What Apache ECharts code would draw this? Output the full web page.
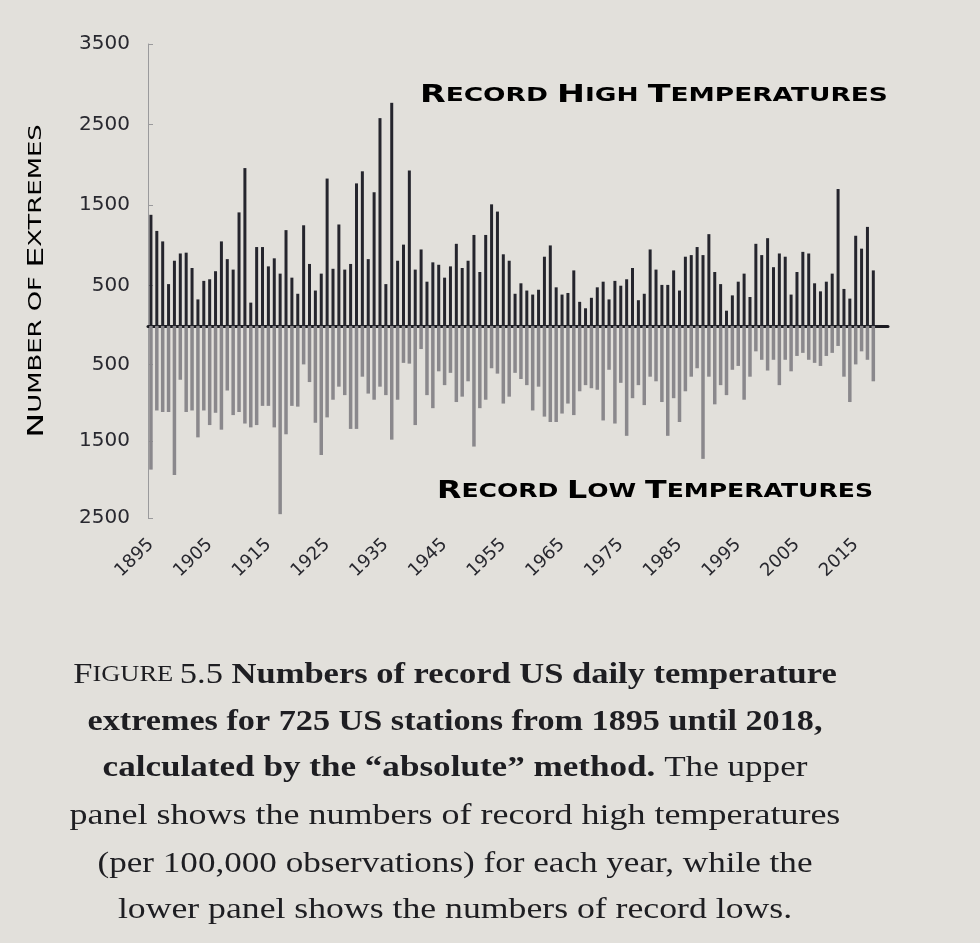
<!DOCTYPE html>
<html>
<head>
<meta charset="utf-8">
<script src="https://cdn.jsdelivr.net/npm/echarts@6/dist/echarts.min.js"></script>
<style>
  html, body { margin: 0; padding: 0; background: #e2e0db; }
  #chart { width: 980px; height: 943px; }
</style>
</head>
<body>
<div id="chart"></div>
<script>
// Years 1895..2018 (categories)
const years = [];
for (let y = 1895; y <= 2018; y++) years.push(String(y));

// Record highs per year (per 100,000 observations)
const recordHighs = [
  1380, 1180, 1050, 520, 810, 900, 910, 720, 330, 560,
  580, 680, 1050, 830, 700, 1410, 1960, 290, 980, 980,
  740, 840, 650, 1190, 600, 400, 1250, 770, 440, 650,
  1830, 710, 1260, 700, 770, 1770, 1920, 830, 1660, 2580,
  520, 2770, 810, 1010, 1930, 700, 950, 550, 790, 760,
  600, 740, 1020, 720, 810, 1130, 670, 1130, 1510, 1420,
  890, 810, 400, 530, 440, 390, 450, 860, 1000, 480,
  390, 410, 690, 300, 220, 350, 480, 550, 330, 560,
  500, 580, 720, 320, 400, 950, 700, 510, 510, 690,
  440, 860, 880, 980, 880, 1140, 670, 520, 190, 380,
  550, 650, 360, 1020, 880, 1090, 730, 900, 860, 390,
  670, 920, 900, 530, 430, 550, 650, 1700, 460, 340,
  1120, 960, 1230, 690
];

// Record lows per year
const recordLows = [
  1870, 1100, 1120, 1120, 1940, 700, 1120, 1100, 1450, 1100,
  1290, 1130, 1350, 840, 1160, 1120, 1270, 1320, 1290, 1040,
  1040, 1320, 2450, 1410, 1040, 1050, 500, 730, 1260, 1680,
  1190, 960, 790, 900, 1340, 1340, 660, 880, 960, 790,
  900, 1480, 960, 480, 490, 1290, 300, 900, 1070, 590,
  770, 610, 990, 920, 720, 1570, 1070, 960, 550, 620,
  1010, 920, 610, 690, 770, 1100, 790, 1180, 1250, 1250,
  1140, 1010, 1160, 850, 770, 810, 830, 1230, 570, 1270,
  740, 1430, 940, 770, 1030, 660, 720, 990, 1430, 940,
  1250, 850, 660, 550, 1730, 660, 1020, 770, 900, 570,
  520, 960, 660, 330, 440, 580, 440, 770, 440, 590,
  390, 350, 440, 480, 520, 390, 350, 260, 660, 990,
  500, 330, 440, 720
];

// Tick labels
const xTickYears = ['1895','1905','1915','1925','1935','1945','1955','1965','1975','1985','1995','2005','2015'];
const highTicks = [500, 1500, 2500, 3500];
const lowTicks = [500, 1500, 2500];

const inkDark = '#28282f';
const techFont = 'DejaVu Sans';
const serif = 'Liberation Serif';
const capColor = '#1e1e22';

const chart = echarts.init(document.getElementById('chart'));

const commonLeft = 148, plotWidth = 740;

function captionLine(y, text, rich, scale) {
  return {
    type: 'text', x: 455, y: y, scaleX: scale,
    style: { text: text, align: 'center', verticalAlign: 'middle', rich: rich,
             fontFamily: serif, fontSize: 30, fill: capColor }
  };
}
const capRich = {
  r: { fontFamily: serif, fontSize: 30, color: capColor },
  sc: { fontFamily: serif, fontSize: 23, color: capColor },
  b: { fontFamily: serif, fontSize: 30, fontWeight: 'bold', color: capColor }
};
const titleRich = {
  b: { fontFamily: techFont, fontWeight: 'bold', fontSize: 24, color: inkDark },
  s: { fontFamily: techFont, fontWeight: 'bold', fontSize: 19, color: inkDark }
};

chart.setOption({
  backgroundColor: '#e2e0db',
  animation: false,
  grid: [
    { left: commonLeft, width: plotWidth, top: 44, height: 282 },
    { left: commonLeft, width: plotWidth, top: 326, height: 192 }
  ],
  xAxis: [
    {
      type: 'category', gridIndex: 0, data: years, max: 125,
      axisLine: { show: true, lineStyle: { color: '#1c1c22', width: 3 } },
      axisTick: { show: false }, axisLabel: { show: false }
    },
    {
      type: 'category', gridIndex: 1, data: years, max: 125, position: 'bottom',
      axisLine: { show: false }, axisTick: { show: false },
      axisLabel: {
        show: true, rotate: 44, margin: 24,
        interval: (i, v) => xTickYears.indexOf(v) >= 0,
        fontFamily: techFont, fontSize: 18, color: inkDark
      }
    }
  ],
  yAxis: [
    {
      type: 'value', gridIndex: 0, min: 0, max: 3500,
      splitLine: { show: false },
      axisLine: { show: true, lineStyle: { color: '#9a9a9c', width: 1 } },
      axisTick: { show: true, inside: true, length: 5, customValues: highTicks, lineStyle: { color: '#9a9a9c' } },
      axisLabel: { customValues: highTicks, margin: 18, formatter: v => String(v),
                   fontFamily: techFont, fontSize: 20, color: inkDark }
    },
    {
      type: 'value', gridIndex: 1, min: 0, max: 2500, inverse: true,
      splitLine: { show: false },
      axisLine: { show: true, lineStyle: { color: '#9a9a9c', width: 1 } },
      axisTick: { show: true, inside: true, length: 5, customValues: lowTicks, lineStyle: { color: '#9a9a9c' } },
      axisLabel: { customValues: lowTicks, margin: 18, formatter: v => String(v),
                   fontFamily: techFont, fontSize: 20, color: inkDark }
    }
  ],
  series: [
    {
      name: 'Record highs', type: 'bar', xAxisIndex: 0, yAxisIndex: 0,
      data: recordHighs, barWidth: 3,
      itemStyle: { color: '#25252d' }
    },
    {
      name: 'Record lows', type: 'bar', xAxisIndex: 1, yAxisIndex: 1,
      data: recordLows, barWidth: 3.5,
      itemStyle: { color: '#8a888c' }
    }
  ],
  graphic: [
    {
      type: 'text', x: 420, y: 96, scaleX: 1.39,
      style: {
        text: '{b|R}{s|ECORD }{b|H}{s|IGH }{b|T}{s|EMPERATURES}',
        align: 'left', verticalAlign: 'middle', rich: titleRich
      }
    },
    {
      type: 'text', x: 437, y: 492, scaleX: 1.32,
      style: {
        text: '{b|R}{s|ECORD }{b|L}{s|OW }{b|T}{s|EMPERATURES}',
        align: 'left', verticalAlign: 'middle', rich: titleRich
      }
    },
    {
      type: 'text', x: 37, y: 281, rotation: Math.PI / 2, scaleX: 1.52,
      style: {
        text: '{b|N}{s|UMBER OF }{b|E}{s|XTREMES}',
        align: 'center', verticalAlign: 'middle',
        rich: {
          b: { fontFamily: techFont, fontSize: 22, color: inkDark },
          s: { fontFamily: techFont, fontSize: 17, color: inkDark }
        }
      }
    },
    captionLine(675, '{r|F}{sc|IGURE }{r|5.5 }{b|Numbers of record US daily temperature}', capRich, 1.15),
    captionLine(722, '{b|extremes for 725 US stations from 1895 until 2018,}', capRich, 1.14),
    captionLine(768, '{b|calculated by the \u201Cabsolute\u201D method. }{r|The upper}', capRich, 1.17),
    captionLine(816, '{r|panel shows the numbers of record high temperatures}', capRich, 1.2),
    captionLine(864, '{r|(per 100,000 observations) for each year, while the}', capRich, 1.17),
    captionLine(910, '{r|lower panel shows the numbers of record lows.}', capRich, 1.19)
  ]
});
</script>
</body>
</html>
